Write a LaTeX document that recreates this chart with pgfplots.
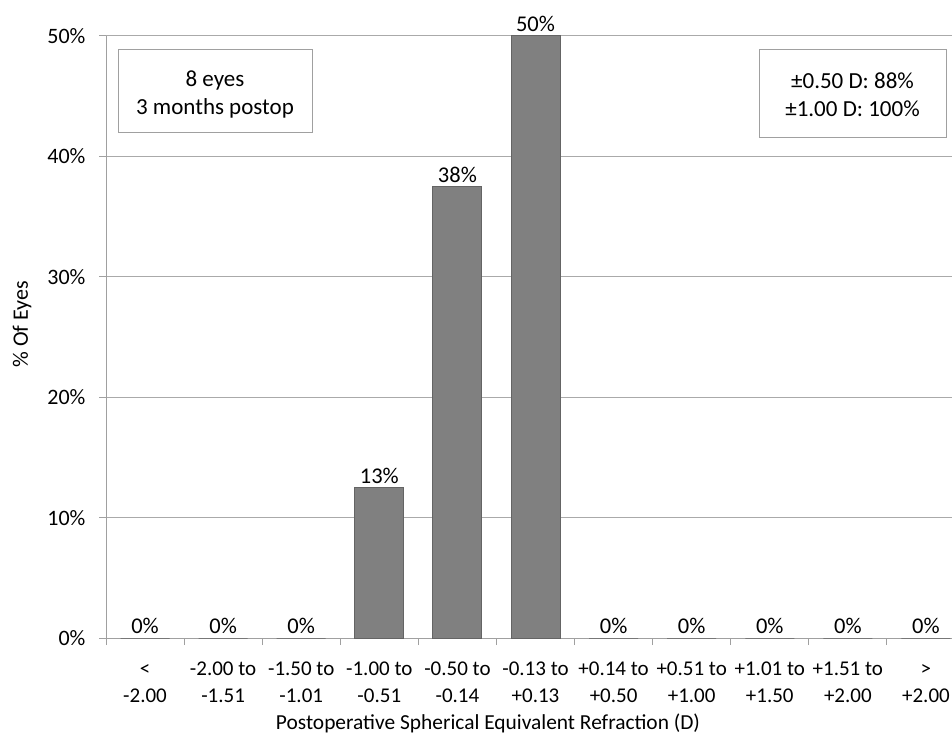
\documentclass[border=0pt]{standalone}
\usepackage{pgfplots}
\pgfplotsset{compat=1.18}
\usepackage{fontspec}
\setmainfont{Carlito}
\definecolor{barfill}{RGB}{128,128,128}
\definecolor{baredge}{RGB}{100,100,100}
\definecolor{gridc}{RGB}{170,170,170}
\definecolor{axisc}{RGB}{160,160,160}
\begin{document}
\begin{tikzpicture}
\useasboundingbox (0pt,0pt) rectangle (952pt,736pt);
\begin{scope}
\clip (0pt,0pt) rectangle (952pt,736pt);
\begin{axis}[
  at={(106pt,98pt)}, anchor=south west,
  scale only axis, width=859pt, height=602pt,
  xmin=-0.5, xmax=10.5, ymin=0, ymax=50,
  axis lines*=left,
  axis line style={axisc, line width=1pt},
  ymajorgrids, grid style={gridc, line width=1pt},
  tick align=outside, major tick length=7pt,
  tick style={axisc, line width=1pt},
  ytick={0,10,...,50},
  yticklabel={\pgfmathprintnumber{\tick}\%},
  yticklabel style={font=\fontsize{22}{26}\selectfont, /pgf/number format/assume math mode=true, xshift=-10pt},
  xtick={-0.5,0.5,...,10.5},
  x tick label as interval,
  xticklabels={{\strut<\\-2.00},{\strut-2.00 to\\-1.51},{\strut-1.50 to\\-1.01},{\strut-1.00 to\\-0.51},{\strut-0.50 to\\-0.14},{\strut-0.13 to\\+0.13},{\strut+0.14 to\\+0.50},{\strut+0.51 to\\+1.00},{\strut+1.01 to\\+1.50},{\strut+1.51 to\\+2.00},{\strut>\\+2.00}},
  xticklabel style={align=center, font=\fontsize{21}{27}\selectfont, text=black, yshift=-8pt},
  xlabel={Postoperative Spherical Equivalent Refraction (D)},
  xlabel style={at={(axis description cs:0.4447,-0.1412)}, anchor=center, font=\fontsize{21.4}{26}\selectfont},
  ylabel={\% Of Eyes},
  ylabel style={at={(axis description cs:-0.0978,0.5208)}, anchor=center, font=\fontsize{22}{26}\selectfont},
  ybar, bar width=49pt, bar shift=0pt,
  nodes near coords={\pgfmathprintnumber{\pgfplotspointmeta}\%},
  point meta=explicit,
  every node near coord/.append style={font=\fontsize{22.5}{27}\selectfont, text=black, /pgf/number format/assume math mode=true},
]
\addplot[fill=barfill, draw=baredge, line width=1pt] table[x=x, y=y, meta=lab] {
x y lab
0 0 0
1 0 0
2 0 0
3 12.5 13
4 37.5 38
5 50 50
6 0 0
7 0 0
8 0 0
9 0 0
10 0 0
};
\end{axis}
\draw[axisc, line width=1pt, fill=white] (118pt,603pt) rectangle (312pt,686pt);
\node[align=center, font=\fontsize{23}{28}\selectfont] at (215pt,641.5pt) {8 eyes\\3 months postop};
\draw[axisc, line width=1pt, fill=white] (759pt,598pt) rectangle (946pt,686pt);
\node[align=center, font=\fontsize{23}{28}\selectfont] at (852.5pt,641pt) {±0.50 D: 88\%\\±1.00 D: 100\%};
\end{scope}
\end{tikzpicture}
\end{document}
